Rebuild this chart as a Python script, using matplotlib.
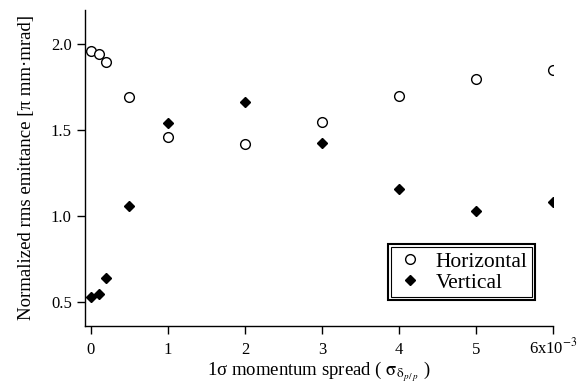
import matplotlib
matplotlib.use("Agg")
import matplotlib.pyplot as plt
from matplotlib.patches import Rectangle

plt.rcParams['font.family'] = ['Liberation Serif', 'DejaVu Serif']
plt.rcParams['mathtext.fontset'] = 'stix'

# momentum spread (x 1e-3)
spread = [0, 0.1, 0.2, 0.5, 1, 2, 3, 4, 5, 6]
horizontal = [1.963, 1.946, 1.895, 1.696, 1.461, 1.42, 1.55, 1.70, 1.80, 1.853]
vertical = [0.529, 0.548, 0.644, 1.058, 1.542, 1.664, 1.428, 1.159, 1.031, 1.085]
xticks = [0, 1, 2, 3, 4, 5, 6]
xticklabels = ['0', '1', '2', '3', '4', '5', '6x10$^{-3}$']
yticks = [0.5, 1.0, 1.5, 2.0]

fig = plt.figure(figsize=(5.78, 3.86), dpi=100)
ax = fig.add_axes([0.147, 0.156, 0.81, 0.818])

ax.plot(spread, horizontal, 'o', mfc='white', mec='black', mew=1.0, ms=7, label='Horizontal')
ax.plot(spread, vertical, 'D', color='black', ms=5.5, label='Vertical')

ax.set_xlim(-0.078, 6)
ax.set_ylim(0.364, 2.2)
ax.set_xticks(xticks)
ax.set_xticklabels(xticklabels)
ax.set_yticks(yticks)
ax.set_yticklabels(['%.1f' % v for v in yticks])
ax.tick_params(direction='out', length=6, width=1, labelsize=12)
ax.tick_params(axis='x', pad=14)
for lab in ax.get_xticklabels():
    lab.set_va('baseline')
for s in ['top', 'right']:
    ax.spines[s].set_visible(False)
for s in ['left', 'bottom']:
    ax.spines[s].set_linewidth(1)

ax.set_xlabel(r'1σ momentum spread ( $\mathrm{\sigma}_{\mathrm{\delta}_{p\,/\,p}}$ )',
              fontsize=13.5, labelpad=1)
ax.set_ylabel('Normalized rms emittance [π mm·mrad]', fontsize=13.5, labelpad=11)

leg = ax.legend(loc='lower right', bbox_to_anchor=(0.955, 0.091), fontsize=15.5,
                frameon=True, fancybox=False, edgecolor='black', framealpha=1,
                handletextpad=0.5, borderpad=0.2, labelspacing=0.05, handlelength=1.4,
                borderaxespad=0)
leg.get_frame().set_linewidth(0.8)

# outer box for the double border
fig.canvas.draw()
bb = leg.get_window_extent().transformed(fig.transFigure.inverted())
pad_x = 3 / 578
pad_y = 3 / 386
fig.patches.append(Rectangle((bb.x0 - pad_x, bb.y0 - pad_y), bb.width + 2 * pad_x,
                             bb.height + 2 * pad_y, transform=fig.transFigure,
                             fill=False, edgecolor='black', linewidth=1.5))

fig.savefig('out.png', dpi=100)
